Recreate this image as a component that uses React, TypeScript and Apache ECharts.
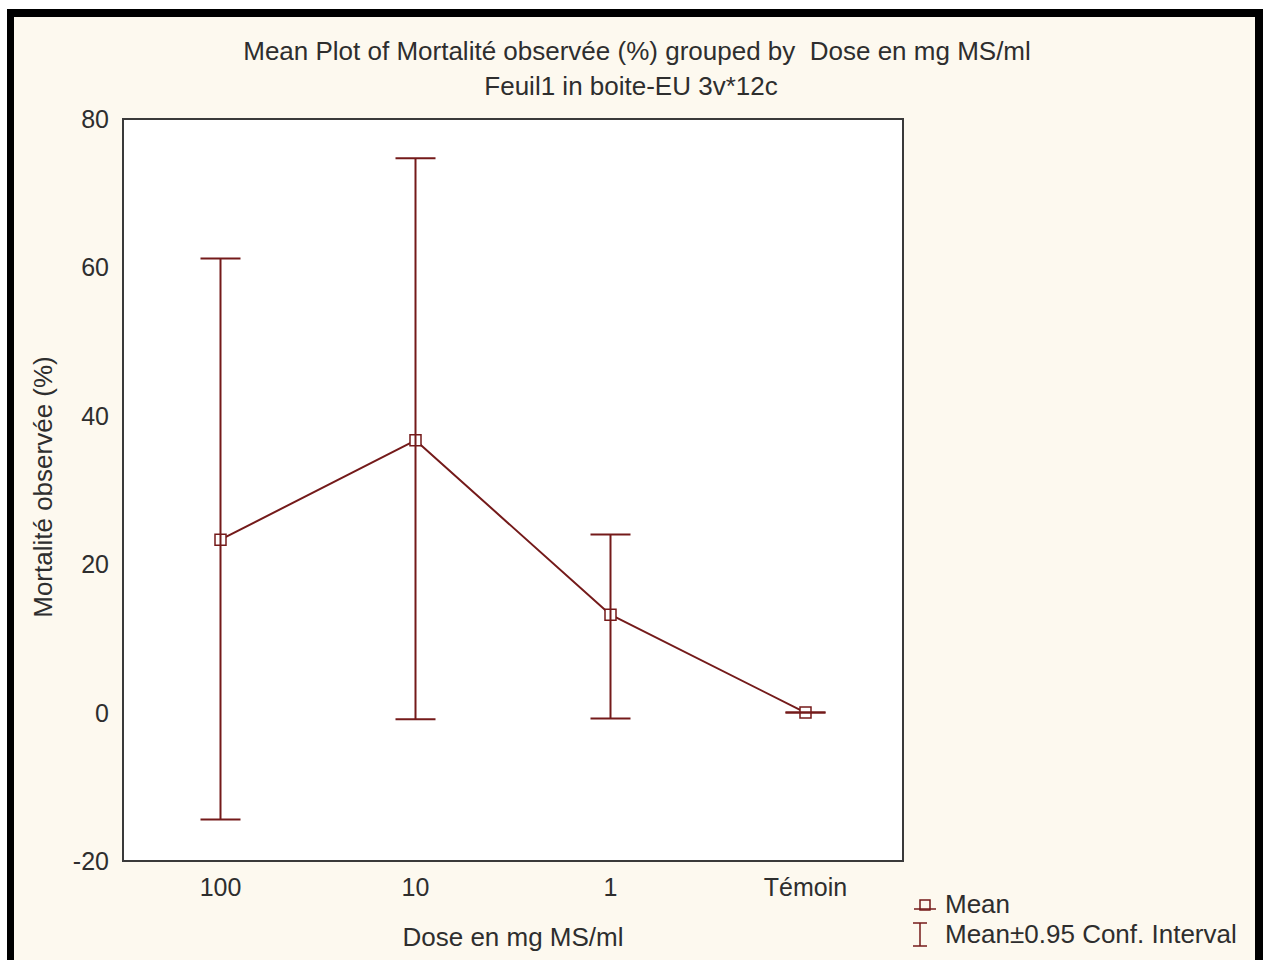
import React, { useEffect, useRef } from "react";
import * as echarts from "echarts";

const categories = ["100", "10", "1", "Témoin"];
const means = [23.3, 36.7, 13.2, 0];
const ciLow = [-14.4, -0.9, -0.8, 0];
const ciHigh = [61.2, 74.7, 24.0, 0];
const yTicks = { min: -20, max: 80, interval: 20 };

const MAROON = "#741a1a";
const TEXT = "#2e2e2e";
const FONT = "'Liberation Sans', Arial, sans-serif";
const FS = 26;

export default function App() {
  const ref = useRef<HTMLDivElement>(null);
  useEffect(() => {
    if (!ref.current) return;
    const chart = echarts.init(ref.current, undefined, { renderer: "svg" });
    const errData = categories.map((_, i) => [i, ciLow[i], ciHigh[i]]);
    chart.setOption({
      animation: false,
      backgroundColor: "#ffffff",
      textStyle: { fontFamily: FONT },
      grid: {
        left: 123,
        top: 119,
        width: 780,
        height: 742,
        show: true,
        backgroundColor: "#ffffff",
        borderColor: "#3a3a3a",
        borderWidth: 2,
        z: 1,
      },
      xAxis: [
        {
          type: "category",
          data: categories,
          position: "bottom",
          boundaryGap: true,
          axisLine: { show: false },
          axisTick: { show: true, inside: true, length: 6, alignWithLabel: true, lineStyle: { color: "#3a3a3a", width: 1.5 } },
          axisLabel: { fontSize: 25, color: TEXT, margin: 13, fontFamily: FONT },
          splitLine: { show: false },
        },
        {
          type: "category",
          data: categories,
          position: "top",
          boundaryGap: true,
          axisLine: { show: false },
          axisTick: { show: true, inside: true, length: 6, alignWithLabel: true, lineStyle: { color: "#3a3a3a", width: 1.5 } },
          axisLabel: { show: false },
          splitLine: { show: false },
        },
      ],
      yAxis: {
        type: "value",
        min: yTicks.min,
        max: yTicks.max,
        interval: yTicks.interval,
        axisLine: { show: false },
        axisTick: { show: false },
        axisLabel: { fontSize: 25, color: TEXT, margin: 14, fontFamily: FONT },
        splitLine: { show: true, lineStyle: { color: "#d9d9d9", width: 1 } },
      },
      graphic: [
        { type: "rect", z: -10, shape: { x: 7, y: 9, width: 1256, height: 960 }, style: { fill: "#000" } },
        { type: "rect", z: -9, shape: { x: 14, y: 17, width: 1241, height: 960 }, style: { fill: "#fdf9ef" } },
        {
          type: "text", z: 10, x: 637, y: 51,
          style: { text: "Mean Plot of Mortalité observée (%) grouped by  Dose en mg MS/ml", fontSize: FS, fill: TEXT, fontFamily: FONT, align: "center", verticalAlign: "middle" },
        },
        {
          type: "text", z: 10, x: 631, y: 86,
          style: { text: "Feuil1 in boite-EU 3v*12c", fontSize: FS, fill: TEXT, fontFamily: FONT, align: "center", verticalAlign: "middle" },
        },
        {
          type: "text", z: 10, x: 513, y: 937,
          style: { text: "Dose en mg MS/ml", fontSize: FS, fill: TEXT, fontFamily: FONT, align: "center", verticalAlign: "middle" },
        },
        {
          type: "text", z: 10, x: 43, y: 487, rotation: Math.PI / 2,
          style: { text: "Mortalité observée (%)", fontSize: FS, fill: TEXT, fontFamily: FONT, align: "center", verticalAlign: "middle" },
        },
        { type: "line", z: 10, shape: { x1: 914, y1: 909, x2: 936, y2: 909 }, style: { stroke: MAROON, lineWidth: 1.5 } },
        { type: "rect", z: 10, shape: { x: 920, y: 900, width: 10, height: 10 }, style: { fill: "none", stroke: MAROON, lineWidth: 1.5 } },
        {
          type: "text", z: 10, x: 945, y: 904,
          style: { text: "Mean", fontSize: FS, fill: TEXT, fontFamily: FONT, align: "left", verticalAlign: "middle" },
        },
        { type: "line", z: 10, shape: { x1: 913, y1: 923, x2: 927, y2: 923 }, style: { stroke: MAROON, lineWidth: 1.5 } },
        { type: "line", z: 10, shape: { x1: 920, y1: 923, x2: 920, y2: 946 }, style: { stroke: MAROON, lineWidth: 1.5 } },
        { type: "line", z: 10, shape: { x1: 913, y1: 946, x2: 927, y2: 946 }, style: { stroke: MAROON, lineWidth: 1.5 } },
        {
          type: "text", z: 10, x: 945, y: 934,
          style: { text: "Mean±0.95 Conf. Interval", fontSize: FS, fill: TEXT, fontFamily: FONT, align: "left", verticalAlign: "middle" },
        },
      ],
      series: [
        {
          type: "line",
          data: means,
          xAxisIndex: 0,
          symbol: "rect",
          symbolSize: 11,
          lineStyle: { color: MAROON, width: 2 },
          itemStyle: { color: "#fff", borderColor: MAROON, borderWidth: 1.5 },
          z: 3,
        },
        {
          type: "custom",
          xAxisIndex: 0,
          data: errData,
          z: 4,
          renderItem: (params: any, api: any) => {
            const x = api.value(0);
            const lo = api.coord([x, api.value(1)]);
            const hi = api.coord([x, api.value(2)]);
            const hw = 20;
            const st = { stroke: MAROON, lineWidth: 2 };
            return {
              type: "group",
              children: [
                { type: "line", shape: { x1: lo[0], y1: lo[1], x2: hi[0], y2: hi[1] }, style: st },
                { type: "line", shape: { x1: hi[0] - hw, y1: hi[1], x2: hi[0] + hw, y2: hi[1] }, style: st },
                { type: "line", shape: { x1: lo[0] - hw, y1: lo[1], x2: lo[0] + hw, y2: lo[1] }, style: st },
              ],
            };
          },
        },
      ],
    });
    return () => chart.dispose();
  }, []);
  return (
    <div style={{ position: "absolute", left: 0, top: 0, width: 1263, height: 960, background: "#fff" }}>
      <div ref={ref} style={{ width: 1263, height: 960 }} />
    </div>
  );
}
